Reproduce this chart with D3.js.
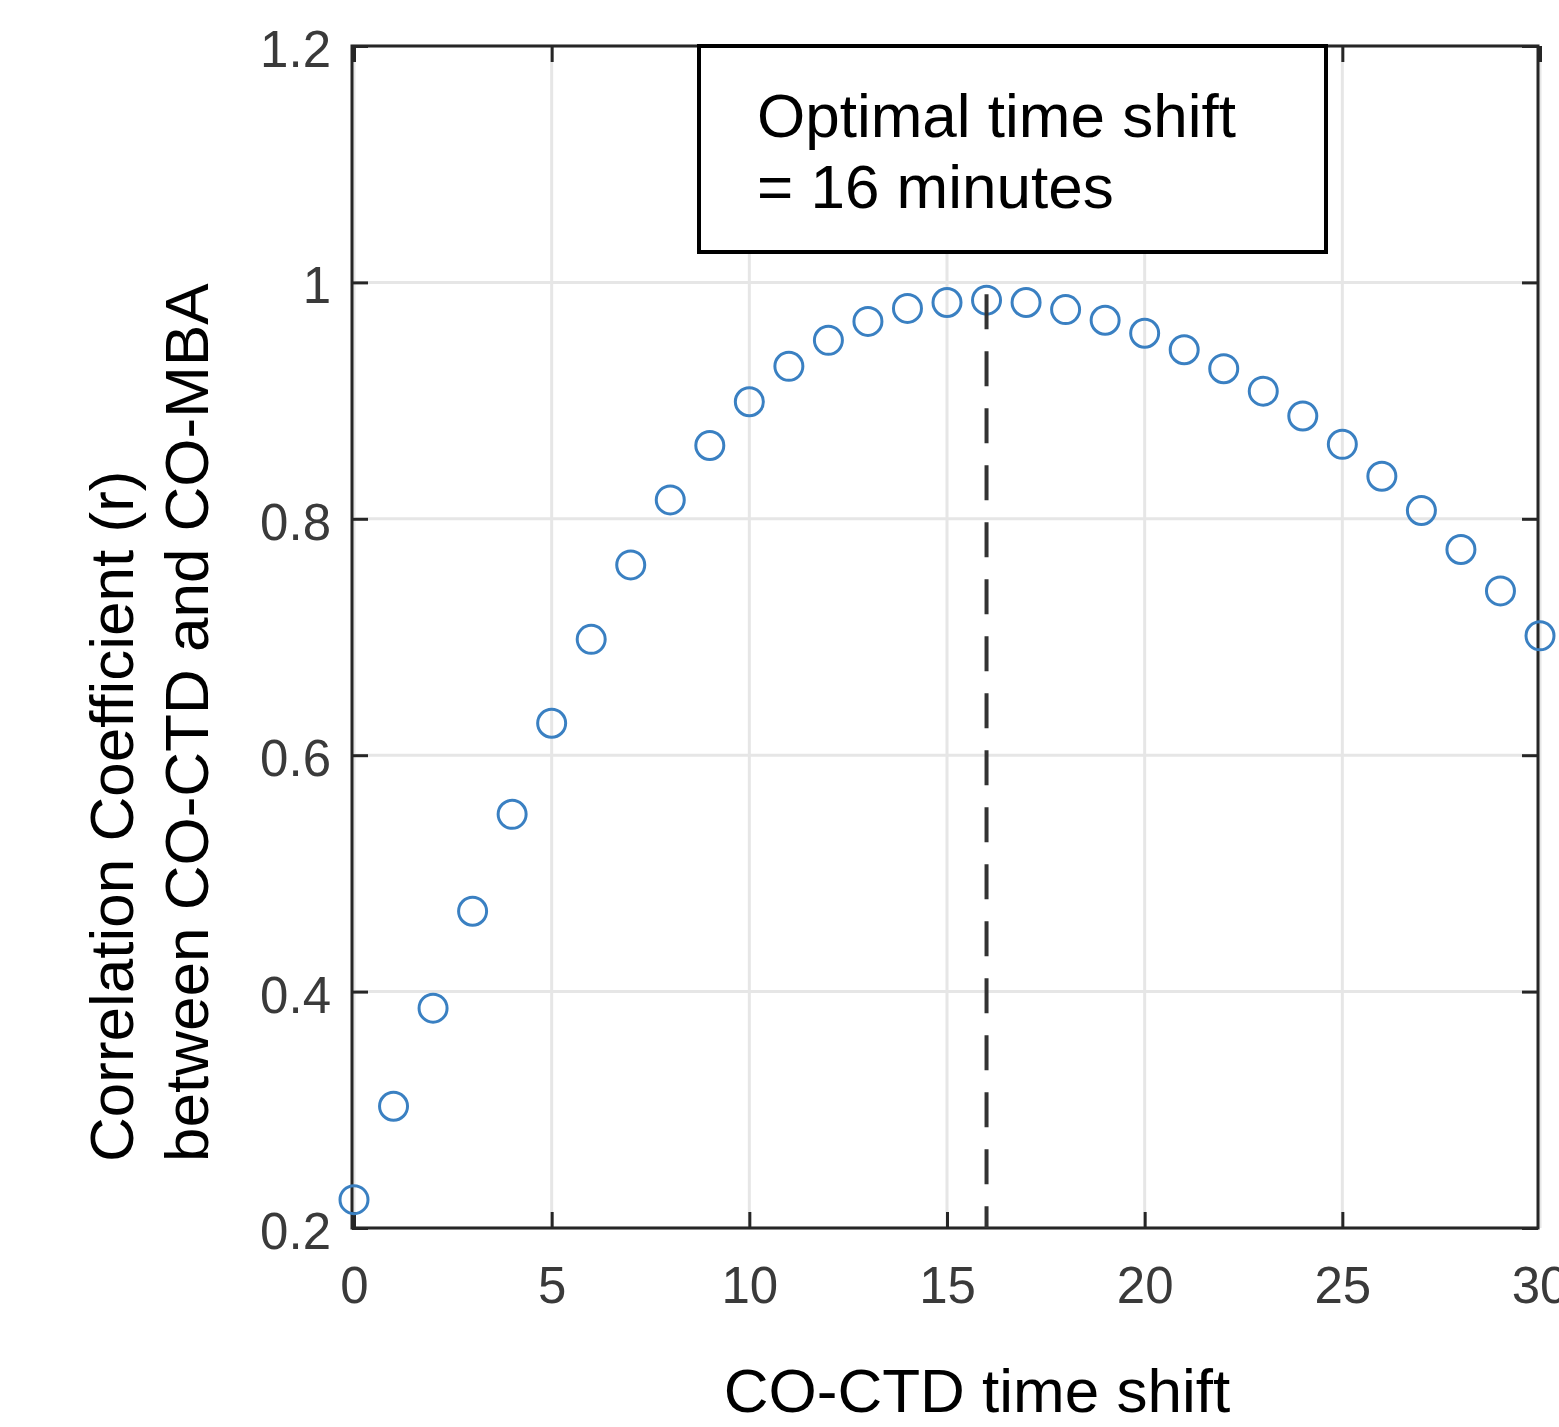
<!DOCTYPE html>
<html>
<head>
<meta charset="utf-8">
<script src="https://cdn.jsdelivr.net/npm/d3@7"></script>
<style>
  body { margin: 0; background: #fff; }
  text { font-family: "Liberation Sans", Arial, sans-serif; }
</style>
</head>
<body>
<div id="chart"></div>
<script>
// time shift (minutes) and correlation coefficient r
var shifts = d3.range(0, 31);
var rValues = [0.224, 0.303, 0.386, 0.468, 0.550, 0.627, 0.698, 0.761, 0.816, 0.862,
  0.899, 0.929, 0.951, 0.967, 0.978, 0.983, 0.985, 0.983, 0.977, 0.968,
  0.957, 0.943, 0.927, 0.908, 0.887, 0.863, 0.836, 0.807, 0.774, 0.739, 0.701];
var xTicks = [0, 5, 10, 15, 20, 25, 30];
var yTicks = [0.2, 0.4, 0.6, 0.8, 1, 1.2];
var optimalShift = 16;
var noteLines = ["Optimal time shift", "= 16 minutes"];
var yLabelLines = ["Correlation Coefficient (r)", "between CO-CTD and CO-MBA"];
var xLabel = "CO-CTD time shift";

(function () {
  var w = 1559, h = 1427;
  var pLeft = 352, pRight = 1538, pTop = 46, pBottom = 1228;

  var svg = d3.select("#chart").append("svg")
    .attr("width", w)
    .attr("height", h);

  svg.append("rect").attr("width", w).attr("height", h).attr("fill", "#fff");

  var x = d3.scaleLinear().domain([0, 30]).range([pLeft + 2, pRight + 2]);
  var y = d3.scaleLinear().domain([0.2, 1.2]).range([pBottom, pTop]);

  var axisColor = "#262626";

  // grid
  svg.append("g").selectAll("line")
    .data(xTicks)
    .enter().append("line")
    .attr("x1", function (d) { return x(d); })
    .attr("x2", function (d) { return x(d); })
    .attr("y1", pTop).attr("y2", pBottom)
    .attr("stroke", "#e6e6e6").attr("stroke-width", 3);

  svg.append("g").selectAll("line")
    .data(yTicks)
    .enter().append("line")
    .attr("x1", pLeft).attr("x2", pRight)
    .attr("y1", function (d) { return y(d); })
    .attr("y2", function (d) { return y(d); })
    .attr("stroke", "#e6e6e6").attr("stroke-width", 3);

  // axes with inward ticks
  function styleAxis(g) {
    g.select(".domain").remove();
    g.selectAll(".tick line").attr("stroke", axisColor).attr("stroke-width", 3);
    g.selectAll(".tick text")
      .attr("fill", "#3a3a3a")
      .style("font-size", "51px")
      .style("font-family", '"Liberation Sans", Arial, sans-serif');
  }

  svg.append("g")
    .attr("transform", "translate(0," + pBottom + ")")
    .call(d3.axisBottom(x).tickValues(xTicks.slice(0, -1)).tickSize(-16).tickPadding(0))
    .call(styleAxis)
    .selectAll(".tick text").attr("y", 75).attr("dy", null);

  // last label sits on the page edge, as in the source figure
  svg.append("text")
    .attr("x", x(30)).attr("y", pBottom + 75)
    .attr("text-anchor", "middle")
    .attr("fill", "#3a3a3a")
    .style("font-size", "51px")
    .text(xTicks[xTicks.length - 1]);

  svg.append("g")
    .attr("transform", "translate(0," + pTop + ")")
    .call(d3.axisTop(x).tickValues(xTicks).tickSize(-16).tickFormat(""))
    .call(styleAxis);

  svg.append("g")
    .attr("transform", "translate(" + pLeft + ",0)")
    .call(d3.axisLeft(y).tickValues(yTicks).tickSize(-16).tickFormat(d3.format("~g")))
    .call(styleAxis)
    .selectAll(".tick text").attr("x", -21).attr("dy", "0.40em");

  svg.append("g")
    .attr("transform", "translate(" + pRight + ",0)")
    .call(d3.axisRight(y).tickValues(yTicks).tickSize(-16).tickFormat(""))
    .call(styleAxis);

  // frame
  svg.append("rect")
    .attr("x", pLeft).attr("y", pTop)
    .attr("width", pRight - pLeft).attr("height", pBottom - pTop)
    .attr("fill", "none")
    .attr("stroke", axisColor).attr("stroke-width", 3);

  // annotation box
  var box = svg.append("g");
  box.append("rect")
    .attr("x", 699).attr("y", pTop)
    .attr("width", 627).attr("height", 206)
    .attr("fill", "#fff").attr("stroke", "#000").attr("stroke-width", 4);
  box.selectAll("text")
    .data(noteLines)
    .enter().append("text")
    .attr("x", 757)
    .attr("y", function (d, i) { return 137 + i * 71; })
    .attr("fill", "#000")
    .style("font-size", "62px")
    .text(function (d) { return d; });

  // points
  svg.append("g").selectAll("circle")
    .data(shifts)
    .enter().append("circle")
    .attr("cx", function (d) { return x(d); })
    .attr("cy", function (d, i) { return y(rValues[i]); })
    .attr("r", 14)
    .attr("fill", "none")
    .attr("stroke", "#3a80c2")
    .attr("stroke-width", 3);

  // optimal shift marker
  svg.append("line")
    .attr("x1", x(optimalShift)).attr("x2", x(optimalShift))
    .attr("y1", y(d3.max(rValues)) - 6).attr("y2", pBottom)
    .attr("stroke", "#333").attr("stroke-width", 4)
    .attr("stroke-dasharray", "35,22");

  // axis labels
  svg.append("text")
    .attr("x", 977).attr("y", 1412)
    .attr("text-anchor", "middle")
    .attr("fill", "#000")
    .style("font-size", "62px")
    .text(xLabel);

  svg.selectAll(".ylab")
    .data(yLabelLines)
    .enter().append("text")
    .attr("class", "ylab")
    .attr("transform", function (d, i) {
      return "translate(" + (133 + i * 75) + ",1162) rotate(-90)";
    })
    .attr("fill", "#000")
    .style("font-size", "62px")
    .text(function (d) { return d; });
})();
</script>
</body>
</html>
